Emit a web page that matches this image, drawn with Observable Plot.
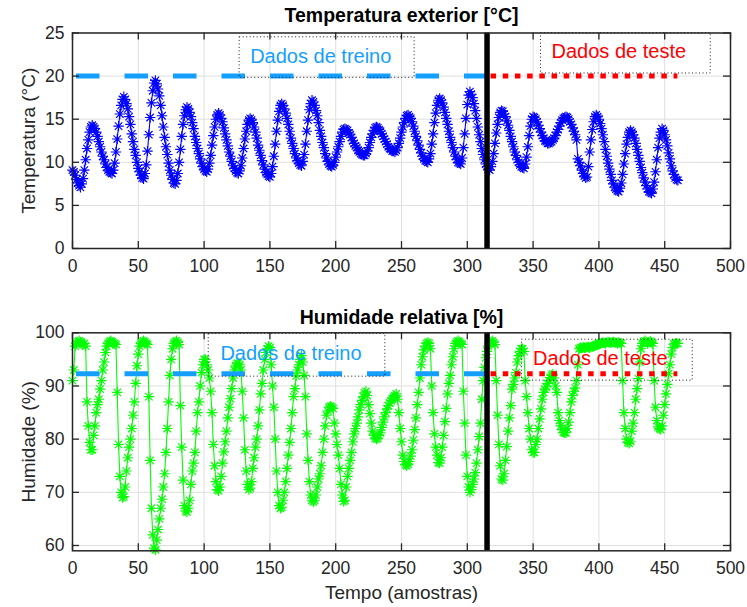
<!DOCTYPE html>
<html>
<head>
<meta charset="utf-8">
<script src="https://cdn.jsdelivr.net/npm/d3@7"></script>
<script src="https://cdn.jsdelivr.net/npm/@observablehq/plot@0.6"></script>
<style>
  html, body { margin: 0; padding: 0; background: #ffffff; }
  #chart { position: relative; width: 747px; height: 607px; font-family: "Liberation Sans", Arial, Helvetica, sans-serif; }
  #chart svg { display: block; overflow: visible; }
</style>
</head>
<body>
<div id="chart"></div>
<script>
// ---------------- DATA ----------------
// Temperatura exterior [°C], amostras 0..460
const temperatura = [
  9.1, 8.9, 8.5, 8.0, 7.6, 7.3, 7.1, 7.5, 8.1, 9.1,
  10.3, 11.6, 12.6, 13.5, 14.1, 14.3, 14.1, 13.9, 13.5, 13.0,
  12.4, 11.8, 11.2, 10.7, 10.3, 9.8, 9.4, 9.1, 8.9, 8.8,
  8.7, 9.1, 9.9, 11.2, 12.7, 14.2, 15.6, 16.6, 17.3, 17.6,
  17.3, 16.8, 16.2, 15.3, 14.4, 13.3, 12.4, 11.5, 10.8, 10.0,
  9.3, 8.9, 8.5, 8.2, 8.1, 8.7, 9.7, 11.3, 13.2, 15.2,
  16.9, 18.3, 19.2, 19.5, 19.1, 18.5, 17.7, 16.6, 15.4, 14.1,
  12.9, 11.8, 10.9, 9.9, 9.1, 8.5, 8.0, 7.6, 7.5, 7.9,
  8.7, 10.0, 11.5, 13.0, 14.4, 15.4, 16.1, 16.4, 16.2, 15.8,
  15.3, 14.6, 13.9, 13.0, 12.3, 11.6, 11.0, 10.4, 9.9, 9.5,
  9.2, 9.0, 8.9, 9.2, 9.9, 10.8, 12.0, 13.1, 14.1, 15.0,
  15.5, 15.7, 15.5, 15.1, 14.7, 14.0, 13.3, 12.6, 11.9, 11.2,
  10.7, 10.1, 9.6, 9.3, 9.0, 8.8, 8.7, 9.0, 9.6, 10.5,
  11.6, 12.7, 13.6, 14.4, 14.9, 15.1, 14.9, 14.6, 14.1, 13.5,
  12.8, 12.0, 11.4, 10.8, 10.2, 9.7, 9.2, 8.8, 8.6, 8.4,
  8.3, 8.7, 9.5, 10.7, 12.1, 13.6, 14.9, 15.9, 16.6, 16.8,
  16.6, 16.2, 15.7, 15.1, 14.4, 13.6, 12.8, 12.2, 11.6, 11.0,
  10.5, 10.2, 9.9, 9.7, 9.6, 10.1, 10.9, 12.1, 13.6, 14.9,
  16.1, 16.8, 17.2, 17.0, 16.6, 16.0, 15.4, 14.6, 13.7, 13.0,
  12.3, 11.7, 11.0, 10.5, 10.1, 9.8, 9.6, 9.5, 9.7, 10.0,
  10.6, 11.2, 11.8, 12.4, 13.0, 13.5, 13.8, 13.9, 13.8, 13.7,
  13.4, 13.2, 12.9, 12.5, 12.2, 11.9, 11.7, 11.4, 11.2, 11.0,
  10.9, 10.8, 10.8, 11.0, 11.3, 11.7, 12.3, 12.9, 13.3, 13.7,
  14.0, 14.1, 14.0, 13.8, 13.6, 13.3, 13.0, 12.7, 12.4, 12.1,
  11.8, 11.6, 11.5, 11.3, 11.3, 11.2, 11.4, 11.7, 12.2, 12.8,
  13.5, 14.1, 14.6, 15.1, 15.4, 15.5, 15.3, 15.1, 14.7, 14.2,
  13.6, 13.0, 12.5, 12.0, 11.5, 11.1, 10.7, 10.4, 10.2, 10.1,
  10.0, 10.4, 11.0, 12.1, 13.3, 14.6, 15.7, 16.6, 17.2, 17.4,
  17.2, 16.9, 16.4, 15.8, 15.1, 14.4, 13.6, 12.9, 12.3, 11.7,
  11.2, 10.7, 10.3, 10.0, 9.9, 9.8, 10.5, 11.7, 13.3, 15.1,
  16.7, 17.8, 18.2, 17.9, 17.5, 16.8, 16.0, 15.1, 14.1, 13.2,
  12.4, 11.6, 10.9, 10.3, 9.8, 9.5, 9.2, 9.1, 9.5, 10.1,
  11.0, 12.2, 13.4, 14.4, 15.2, 15.8, 16.0, 15.9, 15.6, 15.3,
  14.8, 14.3, 13.7, 13.0, 12.4, 11.8, 11.2, 10.8, 10.3, 10.0,
  9.7, 9.5, 9.4, 9.3, 9.8, 10.6, 11.8, 13.1, 14.2, 15.0,
  15.3, 15.2, 15.0, 14.7, 14.3, 13.9, 13.5, 13.1, 12.8, 12.5,
  12.4, 12.2, 12.2, 12.3, 12.4, 12.6, 12.8, 13.1, 13.5, 13.8,
  14.2, 14.6, 14.9, 15.1, 15.2, 15.3, 15.2, 15.0, 14.7, 14.4,
  14.0, 13.6, 13.2, 12.6, 10.4, 10.0, 9.6, 9.1, 8.7, 8.4,
  8.2, 8.3, 9.5, 11.2, 12.6, 13.8, 14.7, 15.3, 15.5, 15.3,
  15.0, 14.5, 13.9, 13.2, 12.4, 11.5, 10.7, 9.9, 9.2, 8.6,
  7.9, 7.5, 7.1, 6.9, 6.7, 6.6, 7.0, 7.6, 8.6, 9.8,
  11.0, 12.1, 12.9, 13.5, 13.7, 13.5, 13.2, 12.8, 12.2, 11.5,
  10.8, 10.1, 9.4, 8.8, 8.2, 7.7, 7.3, 6.9, 6.6, 6.5,
  6.4, 6.9, 7.7, 8.9, 10.3, 11.7, 12.8, 13.5, 13.9, 13.7,
  13.2, 12.6, 11.9, 11.1, 10.4, 9.6, 9.0, 8.6, 8.2, 8.0,
  7.9
];

// Humidade relativa [%], amostras 0..460
const humidade = [
  91, 93, 97.5, 98, 98.3, 98.5, 98.3, 98, 97.8, 98,
  97.5, 87, 82.5, 79.4, 78, 78, 80.7, 82.5, 85, 86.5,
  87.5, 89.4, 91, 93, 94.5, 96.3, 97.5, 98, 98.3, 98.5,
  98.3, 98, 98, 97.8, 88.8, 79, 73, 70, 69, 69.2,
  71, 74, 76.5, 78.5, 80, 82, 84.5, 87, 90.5, 93.8,
  96, 97.5, 98, 98.3, 98.5, 98.3, 98, 97.8, 88, 76,
  67, 62, 59.5, 59.2, 61, 63, 65, 67, 68.7, 71,
  73.5, 77.5, 82, 87, 92, 95, 97, 98, 98.3, 98.5,
  98.2, 97.8, 86.3, 78.5, 72.3, 67.5, 66.5, 66.3, 67, 68.5,
  71.5, 74, 75.5, 77.5, 81.5, 85, 87, 90, 92.5, 94,
  95, 95, 94, 93, 91.5, 89, 85, 79, 75, 72,
  70.5, 70.3, 71, 73, 75.5, 77.6, 79.5, 81.5, 84, 86,
  87.6, 89.5, 91.5, 93, 93.8, 94.2, 94.3, 94, 93, 89,
  84, 78, 74, 71.5, 70.5, 70.8, 72, 74.5, 76.5, 78.5,
  80, 82.5, 85.5, 88.5, 90.5, 93, 95, 96.3, 97, 97.5,
  97.2, 94, 90, 86, 80, 74, 70, 67.5, 67, 67.2,
  68.5, 70, 72, 74.5, 77, 79.4, 82, 85, 88, 89.5,
  91.9, 93, 94, 95, 95.7, 94.5, 92, 88, 81, 76,
  72, 69.5, 68.5, 68.2, 68.5, 69.5, 71, 72.5, 73.5, 75,
  77.5, 80, 82.5, 84.5, 85.3, 86, 86.2, 86, 85.8, 83,
  81, 79, 77, 74.5, 71.5, 69.5, 68.3, 68.5, 71, 73,
  74.5, 76, 77.5, 79.5, 81, 82, 83, 84.2, 85.5, 86.5,
  87.3, 88, 88.7, 89, 88.2, 86.5, 84.8, 83, 81.5, 80.7,
  80.2, 80, 80.2, 80.7, 81.2, 82.2, 83.2, 84.2, 85, 85.7,
  86.3, 86.8, 87.2, 87.6, 87.9, 88.2, 88.5, 87.5, 85, 82,
  79.5, 77, 75.8, 75.2, 75, 75.3, 75.8, 76.8, 78, 79.8,
  81.8, 84, 86.5, 88.8, 91.5, 94, 95.5, 96.8, 97.5, 98,
  98.2, 98, 97, 90, 85, 81, 78.5, 77, 75.6, 75.5,
  76.5, 78.5, 80.7, 83.3, 85.8, 88.5, 90.5, 92, 94, 95.5,
  97, 98, 98.3, 98.5, 98.3, 98, 97.8, 89, 83, 77,
  73, 71, 70, 70.5, 71.5, 72.5, 73.7, 75.5, 78, 80.5,
  83, 87.5, 91, 93.5, 95.3, 96.5, 97.5, 98, 98.3, 98.5,
  98.2, 97.8, 91, 84.5, 79, 75, 72.5, 72.3, 73.5, 76,
  78.6, 81.5, 84, 86.3, 89.4, 90.3, 91.5, 92.5, 94.5, 95.7,
  96.5, 97, 97, 96.5, 91, 88, 85, 82, 80, 78,
  77.5, 77.5, 79, 80, 82, 83.8, 85.7, 87.5, 88.8, 89.4,
  89.8, 90.5, 91, 91.6, 92, 92.2, 91.5, 90, 88.8, 85,
  83.5, 82.5, 81.8, 81.3, 81.2, 81.2, 82, 83.2, 85, 87,
  88.2, 89, 89.6, 91, 94, 97, 97.2, 97.1, 97.3, 97.2,
  97.2, 97.4, 97.3, 97.2, 97.3, 97.4, 97.5, 97.6, 97.7, 97.8,
  97.9, 98.0, 98.1, 98.2, 98.1, 98.0, 98.2, 98.3, 98.2, 98.1,
  98.2, 98.3, 98.2, 98.1, 98.0, 98.2, 98.1, 98.0, 91, 85,
  82, 80, 79.4, 79.2, 79.6, 81.5, 83, 85, 87.5, 89.5,
  91.4, 94.5, 97, 98, 98.3, 98.5, 98.3, 98, 98.2, 98.4,
  98.2, 98, 91, 86, 83.5, 82.3, 82, 81.8, 82.5, 84.5,
  86.5, 88.5, 90.3, 92.3, 94, 96, 97.2, 97.9, 98, 98,
  98
];

// Ticks
const xTicks = [0, 50, 100, 150, 200, 250, 300, 350, 400, 450, 500];
const tempTicks = [0, 5, 10, 15, 20, 25];
const humTicks = [60, 70, 80, 90, 100];

// Divisão treino / teste (amostras) e nível das linhas indicadoras
const inicioTeste = 315;
const fimTeste = 460;
const nivelTemp = 20;
const nivelHum = 92.3;

// Textos
const titulos = ["Temperatura exterior [°C]", "Humidade relativa [%]"];
const rotulosY = ["Temperatura (°C)", "Humidade (%)"];
const rotuloX = "Tempo (amostras)";
const rotulosLegenda = ["Dados de treino", "Dados de teste"];

// ---------------- DRAWING ----------------
const FONT = '"Liberation Sans", Arial, Helvetica, sans-serif';
const AZUL_TREINO = "#149fff";
const W = 747, ML = 72, MR = 17;
const TICK = 7;

// MATLAB-style '*' marker (plus + cross)
const asterisco = {
  draw(ctx, size) {
    const r = Math.sqrt(size / Math.PI);
    const d = r * 0.72;
    ctx.moveTo(-r, 0); ctx.lineTo(r, 0);
    ctx.moveTo(0, -r); ctx.lineTo(0, r);
    ctx.moveTo(-d, -d); ctx.lineTo(d, d);
    ctx.moveTo(-d, d); ctx.lineTo(d, -d);
  }
};

function painel(cfg) {
  const {valores, cor, yDomain, yTicks, nivel, titulo, tituloDy, rotuloY,
         height, marginTop, marginBottom, caixaTreino, caixaTeste, comRotuloX} = cfg;
  const dados = valores.map((v, i) => ({t: i, v}));
  const innerH = height - marginTop - marginBottom;
  const innerW = W - ML - MR;
  const marks = [
    Plot.gridX(xTicks, {stroke: "#dfdfdf", strokeOpacity: 1, strokeWidth: 1}),
    Plot.gridY(yTicks, {stroke: "#dfdfdf", strokeOpacity: 1, strokeWidth: 1}),
    Plot.line(dados, {x: "t", y: "v", stroke: cor, strokeWidth: 1.1}),
    Plot.dot(dados, {x: "t", y: "v", symbol: asterisco, r: 5.2, fill: "none", stroke: cor, strokeWidth: 1.15}),
    Plot.ruleY([nivel], {x1: 0, x2: inicioTeste, stroke: AZUL_TREINO, strokeWidth: 5,
      strokeDasharray: "23.5,25", strokeDashoffset: 44.5}),
    Plot.ruleY([nivel], {x1: inicioTeste, x2: fimTeste, stroke: "#ff0000", strokeWidth: 5,
      strokeDasharray: "5.5,6.7", strokeDashoffset: 8.2}),
    Plot.ruleX([inicioTeste], {stroke: "#000000", strokeWidth: 5.5}),
    // annotation boxes
    Plot.rect([caixaTreino, caixaTeste], {x1: "x1", x2: "x2", y1: "y1", y2: "y2",
      fill: "none", stroke: "#1a1a1a", strokeWidth: 1, strokeDasharray: "1,2.5"}),
    Plot.text([caixaTreino], {x: "tx", y: "ty", text: "texto", textAnchor: "start", lineAnchor: "middle",
      fill: AZUL_TREINO, fontSize: 20}),
    Plot.text([caixaTeste], {x: "tx", y: "ty", text: "texto", textAnchor: "start", lineAnchor: "middle",
      fill: "#ff0000", fontSize: 20}),
    // inward tick marks on all four sides
    Plot.ruleX(xTicks, {x: d => d, insetTop: innerH - TICK, stroke: "#262626", strokeWidth: 1.3}),
    Plot.ruleX(xTicks, {x: d => d, insetBottom: innerH - TICK, stroke: "#262626", strokeWidth: 1.3}),
    Plot.ruleY(yTicks, {y: d => d, insetRight: innerW - TICK, stroke: "#262626", strokeWidth: 1.3}),
    Plot.ruleY(yTicks, {y: d => d, insetLeft: innerW - TICK, stroke: "#262626", strokeWidth: 1.3}),
    Plot.axisX(xTicks, {tickSize: 0, tickPadding: 11, fontSize: 17.5, label: null, fill: "#262626"}),
    Plot.axisY(yTicks, {tickSize: 0, tickPadding: 8, fontSize: 17.5, label: null, fill: "#262626"}),
    Plot.frame({stroke: "#262626", strokeWidth: 1.5}),
    Plot.text([titulo], {text: d => d, frameAnchor: "top", dy: tituloDy, lineAnchor: "middle",
      fontWeight: "bold", fontSize: 19.5, fill: "#000000"}),
    Plot.text([rotuloY], {text: d => d, frameAnchor: "left", rotate: -90, dx: -44, lineAnchor: "middle",
      textAnchor: "middle", fontSize: 19, fill: "#262626"})
  ];
  if (comRotuloX) {
    marks.push(Plot.text([rotuloX], {text: d => d, frameAnchor: "bottom", dy: 42, lineAnchor: "middle",
      fontSize: 19, fill: "#262626"}));
  }
  return Plot.plot({
    width: W, height, marginTop, marginBottom, marginLeft: ML, marginRight: MR,
    x: {domain: [0, 500]},
    y: {domain: yDomain},
    style: {fontFamily: FONT, background: "white", overflow: "visible", color: "#262626"},
    marks
  });
}

const chart = document.getElementById("chart");

chart.appendChild(painel({
  valores: temperatura, cor: "#0000ff", yDomain: [0, 25], yTicks: tempTicks, nivel: nivelTemp,
  titulo: titulos[0], tituloDy: -17, rotuloY: rotulosY[0],
  height: 300, marginTop: 32.5, marginBottom: 52,
  caixaTreino: {x1: 127, x2: 260, y1: 19.8, y2: 24.5, tx: 135, ty: 22.3, texto: rotulosLegenda[0]},
  caixaTeste: {x1: 356, x2: 485, y1: 20.3, y2: 25, tx: 364, ty: 22.8, texto: rotulosLegenda[1]},
  comRotuloX: false
}));

chart.appendChild(painel({
  valores: humidade, cor: "#00ff00", yDomain: [59, 100], yTicks: humTicks, nivel: nivelHum,
  titulo: titulos[1], tituloDy: -15.5, rotuloY: rotulosY[1],
  height: 307, marginTop: 32.3, marginBottom: 56.7,
  caixaTreino: {x1: 103.5, x2: 237.7, y1: 91.75, y2: 99.8, tx: 112.4, ty: 96.1, texto: rotulosLegenda[0]},
  caixaTeste: {x1: 341.5, x2: 471.3, y1: 91.0, y2: 98.7, tx: 350, ty: 95.1, texto: rotulosLegenda[1]},
  comRotuloX: true
}));
</script>
</body>
</html>
